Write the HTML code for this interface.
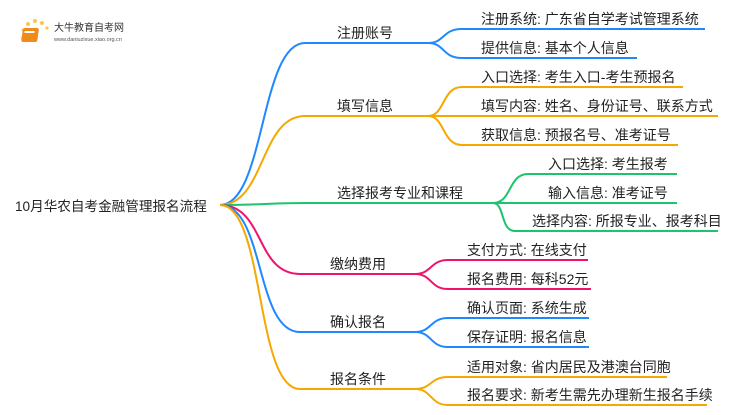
<!DOCTYPE html>
<html><head><meta charset="utf-8"><style>
body{margin:0;background:#fff;}
svg text{font-family:"Liberation Sans","Noto Sans CJK SC",sans-serif;fill:#222;}
</style></head><body>
<svg width="750" height="410" viewBox="0 0 750 410" xmlns="http://www.w3.org/2000/svg">
<g fill="none" stroke-width="2">
<path d="M220 205 C265 205 260 43 305 43 H428" stroke="#1e88ff"/>
<path d="M220 205 C265 205 260 116 305 116 H428" stroke="#f5a800"/>
<path d="M220 205 C260 205 270 203 305 203 H493" stroke="#1dc36e"/>
<path d="M220 205 C265 205 255 274 300 274 H415" stroke="#f0136b"/>
<path d="M220 205 C265 205 255 332 300 332 H415" stroke="#1e88ff"/>
<path d="M220 205 C265 205 255 389 300 389 H415" stroke="#f5a800"/>
<path d="M428 43 C445 43 442 29 462 29 H705" stroke="#1e88ff"/>
<path d="M428 43 C445 43 442 58 462 58 H637" stroke="#1e88ff"/>
<path d="M428 116 C445 116 442 87 462 87 H683" stroke="#f5a800"/>
<path d="M428 116 H718" stroke="#f5a800"/>
<path d="M428 116 C445 116 442 145 462 145 H678" stroke="#f5a800"/>
<path d="M493 203 C512 203 508 174 528 174 H677" stroke="#1dc36e"/>
<path d="M493 203 H677" stroke="#1dc36e"/>
<path d="M493 203 C505 203 500 231 515 231 H718" stroke="#1dc36e"/>
<path d="M415 274 C432 274 430 260 448 260 H588" stroke="#f0136b"/>
<path d="M415 274 C432 274 430 289 448 289 H591" stroke="#f0136b"/>
<path d="M415 332 C432 332 430 318 448 318 H589" stroke="#1e88ff"/>
<path d="M415 332 C432 332 430 347 448 347 H589" stroke="#1e88ff"/>
<path d="M415 389 C432 389 430 377 448 377 H667" stroke="#f5a800"/>
<path d="M415 389 C432 389 430 405 448 405 H707" stroke="#f5a800"/>
</g>
<g>
<circle cx="28" cy="24" r="2" fill="#f7c84a"/><circle cx="35" cy="21" r="2" fill="#f7c84a"/><circle cx="42" cy="23" r="2" fill="#f7c84a"/><circle cx="23" cy="30" r="1.6" fill="#f7d36a"/><circle cx="22" cy="38" r="1.4" fill="#f9dc8a"/><circle cx="47" cy="28" r="1.6" fill="#f7c84a"/>
<rect x="27" y="28" width="16" height="14" rx="2" fill="#f08a1a" transform="skewX(-8)"/>
<rect x="29" y="31" width="10" height="2" fill="#fff" transform="skewX(-8)"/>
<text x="54" y="31" font-size="10" style="fill:#333">大牛教育自考网</text>
<text x="54" y="41" font-size="5.5" style="fill:#555">www.daniuzixue.xiao.org.cn</text>
</g>
<text x="15" y="211" font-size="13.6">10月华农自考金融管理报名流程</text>
<g font-size="14">
<text x="337" y="38">注册账号</text>
<text x="337" y="111">填写信息</text>
<text x="337" y="198">选择报考专业和课程</text>
<text x="330" y="269">缴纳费用</text>
<text x="330" y="327">确认报名</text>
<text x="330" y="384">报名条件</text>
<text x="481" y="24">注册系统: 广东省自学考试管理系统</text>
<text x="481" y="53">提供信息: 基本个人信息</text>
<text x="481" y="82">入口选择: 考生入口-考生预报名</text>
<text x="481" y="111">填写内容: 姓名、身份证号、联系方式</text>
<text x="481" y="140">获取信息: 预报名号、准考证号</text>
<text x="548" y="169">入口选择: 考生报考</text>
<text x="548" y="198">输入信息: 准考证号</text>
<text x="532" y="226">选择内容: 所报专业、报考科目</text>
<text x="467" y="255">支付方式: 在线支付</text>
<text x="467" y="284">报名费用: 每科52元</text>
<text x="467" y="313">确认页面: 系统生成</text>
<text x="467" y="342">保存证明: 报名信息</text>
<text x="467" y="372">适用对象: 省内居民及港澳台同胞</text>
<text x="467" y="400">报名要求: 新考生需先办理新生报名手续</text>
</g>
</svg>
</body></html>
